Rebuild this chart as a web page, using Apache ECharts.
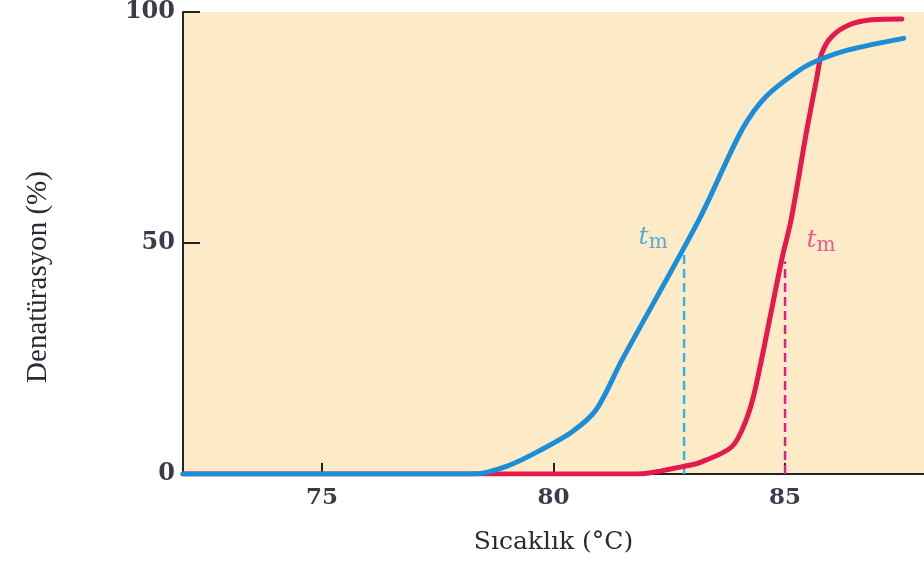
<!DOCTYPE html>
<html>
<head>
<meta charset="utf-8">
<script src="https://cdn.jsdelivr.net/npm/echarts@6/dist/echarts.min.js"></script>
<style>html,body{margin:0;padding:0;background:#fff}#c{width:924px;height:563px}</style>
</head>
<body>
<div id="c"></div>
<script>
// Data
const xTicks = [75, 80, 85];
const yTicks = [0, 50, 100];
const blueT = [72, 78.3, 79.0, 79.69, 80.41, 80.92, 81.48, 83.14, 84.07, 84.59, 85.31, 85.73, 86.37, 87.56];
const blueV = [0, 0, 1.7, 5.0, 9.2, 13.9, 24.7, 55, 74.5, 81.7, 87.4, 89.6, 91.8, 94.3];
const redT = [72, 81.8, 82.06, 82.78, 83.14, 83.85, 84.16, 84.37, 84.93, 85.13, 85.47, 85.69, 85.79, 86.01, 86.38, 86.87, 87.52];
const redV = [0, 0, 0.2, 1.6, 2.4, 5.9, 11.7, 19, 46.5, 55, 74.5, 86, 91, 94.7, 97.2, 98.3, 98.5];
const tmT = [82.82, 85.0];
const tmV = [48.5, 46];

const zip = (a, b) => a.map((v, i) => [v, b[i]]);
const tmRich = (color) => ({
  t: {fontFamily: 'DejaVu Serif', fontStyle: 'italic', fontSize: 25, color: color},
  m: {fontFamily: 'DejaVu Serif', fontSize: 20, color: color, padding: [10, 0, 0, 0]}
});

const chart = echarts.init(document.getElementById('c'), null, {renderer: 'canvas'});
chart.setOption({
  animation: false,
  backgroundColor: '#ffffff',
  grid: {left: 183, top: 11, right: 0, bottom: 89, show: true, backgroundColor: '#fdebc7', borderWidth: 0},
  xAxis: {
    type: 'value', min: 72, max: 88, interval: 1,
    name: 'Sıcaklık (°C)', nameLocation: 'middle', nameGap: 56,
    nameTextStyle: {fontFamily: 'DejaVu Serif', fontSize: 25, color: '#2a2a35'},
    axisLine: {lineStyle: {color: '#222', width: 2}},
    axisTick: {inside: true, length: 11, lineStyle: {color: '#222', width: 2}, customValues: xTicks},
    axisLabel: {customValues: xTicks, margin: 13, fontFamily: 'DejaVu Serif', fontWeight: 'bold', fontSize: 23, color: '#3b3b4b'},
    splitLine: {show: false}
  },
  yAxis: {
    type: 'value', min: 0, max: 100, interval: 50,
    name: 'Denatürasyon (%)', nameLocation: 'middle', nameGap: 130, nameRotate: 90,
    nameTextStyle: {fontFamily: 'Liberation Serif', fontSize: 29, color: '#2a2a35', padding: [0, 68, 0, 0]},
    axisLine: {show: true, lineStyle: {color: '#222', width: 2}},
    axisTick: {inside: true, length: 17, lineStyle: {color: '#222', width: 2}},
    axisLabel: {margin: 8, fontFamily: 'DejaVu Serif', fontWeight: 'bold', fontSize: 24, color: '#3b3b4b',
      formatter: v => yTicks.includes(v) ? String(v) : ''},
    splitLine: {show: false}
  },
  series: [
    {type: 'line', data: [[tmT[0], 0], [tmT[0], tmV[0]]], symbol: 'none', z: 1,
      lineStyle: {color: '#35b4e4', width: 2.5, type: [9, 5]}},
    {type: 'line', data: [[tmT[1], 0], [tmT[1], tmV[1]]], symbol: 'none', z: 1,
      lineStyle: {color: '#e61c8c', width: 2.5, type: [9, 5]}},
    {type: 'line', data: zip(redT, redV), symbol: 'none', smooth: 0.3, z: 2,
      lineStyle: {color: '#e5194d', width: 5, cap: 'round'}},
    {type: 'line', data: zip(blueT, blueV), symbol: 'none', smooth: 0.3, z: 3,
      lineStyle: {color: '#1a8ed8', width: 5, cap: 'round'}},
    {type: 'scatter', symbolSize: 1, itemStyle: {color: 'rgba(0,0,0,0)'}, z: 4,
      data: [
        {value: [tmT[0], tmV[0]], label: {show: true, position: 'left', distance: 16, offset: [0, -12],
          formatter: '{t|t}{m|m}', rich: tmRich('#2a9bd9')}},
        {value: [tmT[1], tmV[1]], label: {show: true, position: 'right', distance: 21, offset: [0, -21],
          formatter: '{t|t}{m|m}', rich: tmRich('#e8337a')}}
      ]}
  ]
});
</script>
</body>
</html>
